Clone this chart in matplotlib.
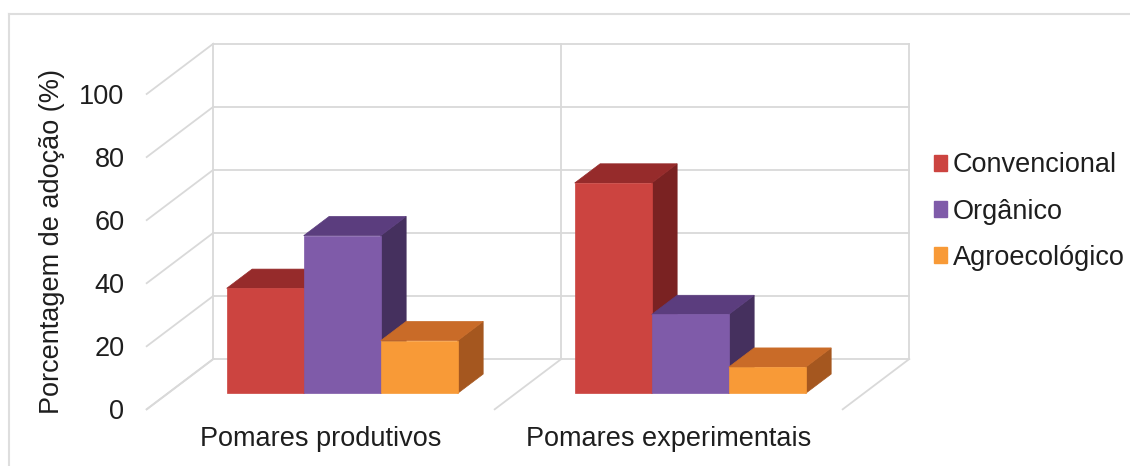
import matplotlib.pyplot as plt
from matplotlib.patches import Polygon, Patch
from matplotlib.lines import Line2D

plt.rcParams['font.family'] = ['Liberation Sans', 'DejaVu Sans']

# dados
categorias = ['Pomares produtivos', 'Pomares experimentais']
series = ['Convencional', 'Orgânico', 'Agroecológico']
convencional = [33.3, 66.7]
organico = [50.0, 25.0]
agroecologico = [16.7, 8.3]
yticks = [0, 20, 40, 60, 80, 100]

valores = [convencional, organico, agroecologico]
cor_frente = ['#CC4440', '#7F5BA9', '#F89A37']
cor_topo = ['#962B2B', '#5B3D7E', '#C96B28']
cor_lado = ['#7A2222', '#45305E', '#A5571F']
cor_grade = '#D9D9D9'
cor_texto = '#1E1E1E'

W, H = 1130, 466
fig = plt.figure(figsize=(W / 100, H / 100), dpi=100)

# plano frontal do grafico (em pixels)
ax_l, ax_bot, ax_w, ax_h = 146.7, 409.3, 696.0, 315.3
ax = fig.add_axes([ax_l / W, (H - ax_bot) / H, ax_w / W, ax_h / H])
ax.set_xlim(0, len(categorias))
ax.set_ylim(0, 100)
for s in ax.spines.values():
    s.set_visible(False)
ax.patch.set_alpha(0)

# profundidade (pixels -> unidades de dados)
px = 66.6 * len(categorias) / ax_w
py = 50.3 * 100 / ax_h
n = len(categorias)

# paredes / grade
kw = dict(color=cor_grade, lw=1.3, zorder=1, clip_on=False)
for y in yticks:
    ax.plot([px, n + px], [y + py, y + py], **kw)
    ax.plot([0, px], [y, y + py], **kw)
for i in range(n + 1):
    ax.plot([i + px, i + px], [py, 100 + py], **kw)
    ax.plot([i, i + px], [0, py], **kw)

# barras 3D
larg = 0.2213
ini = 0.169
d0, d1 = 0.318, 0.70
for i in range(n):
    for j, serie in enumerate(valores):
        h = serie[i]
        x0 = i + ini + j * larg
        x1 = x0 + larg
        frente = [(x0 + d0 * px, d0 * py), (x1 + d0 * px, d0 * py),
                  (x1 + d0 * px, h + d0 * py), (x0 + d0 * px, h + d0 * py)]
        topo = [(x0 + d0 * px, h + d0 * py), (x1 + d0 * px, h + d0 * py),
                (x1 + d1 * px, h + d1 * py), (x0 + d1 * px, h + d1 * py)]
        lado = [(x1 + d0 * px, d0 * py), (x1 + d1 * px, d1 * py),
                (x1 + d1 * px, h + d1 * py), (x1 + d0 * px, h + d0 * py)]
        for pts, c in [(lado, cor_lado[j]), (topo, cor_topo[j]), (frente, cor_frente[j])]:
            ax.add_patch(Polygon(pts, closed=True, fc=c, ec=c, lw=0.5,
                                 zorder=3, clip_on=False))

ax.set_yticks(yticks)
ax.set_yticklabels([str(v) for v in yticks], fontsize=19.5, color=cor_texto)
ax.set_xticks([i + 0.5 for i in range(n)])
ax.set_xticklabels(categorias, fontsize=19.5, color=cor_texto)
ax.tick_params(axis='y', length=0, pad=16)
ax.tick_params(axis='x', length=0, pad=12)

fig.text(52 / W, (H - 241.5) / H, 'Porcentagem de adoção (%)', rotation=90,
         ha='center', va='center', fontsize=19.5, color=cor_texto)

handles = [Patch(fc=cor_frente[j], ec=cor_frente[j]) for j in range(3)]
fig.legend(handles, series, loc='upper left',
           bbox_to_anchor=(933.5 / W, (H - 152.5) / H), frameon=False,
           fontsize=19.5, handlelength=0.48, handleheight=0.52,
           handletextpad=0.24, labelspacing=0.74, borderpad=0,
           borderaxespad=0, labelcolor=cor_texto)

# moldura externa
fig.add_artist(Line2D([9 / W, 1], [(H - 14) / H, (H - 14) / H],
                      color='#DEDEDE', lw=1.5, transform=fig.transFigure))
fig.add_artist(Line2D([9 / W, 9 / W], [(H - 14) / H, 0],
                      color='#DEDEDE', lw=1.5, transform=fig.transFigure))

fig.savefig('out.png', dpi=100)
